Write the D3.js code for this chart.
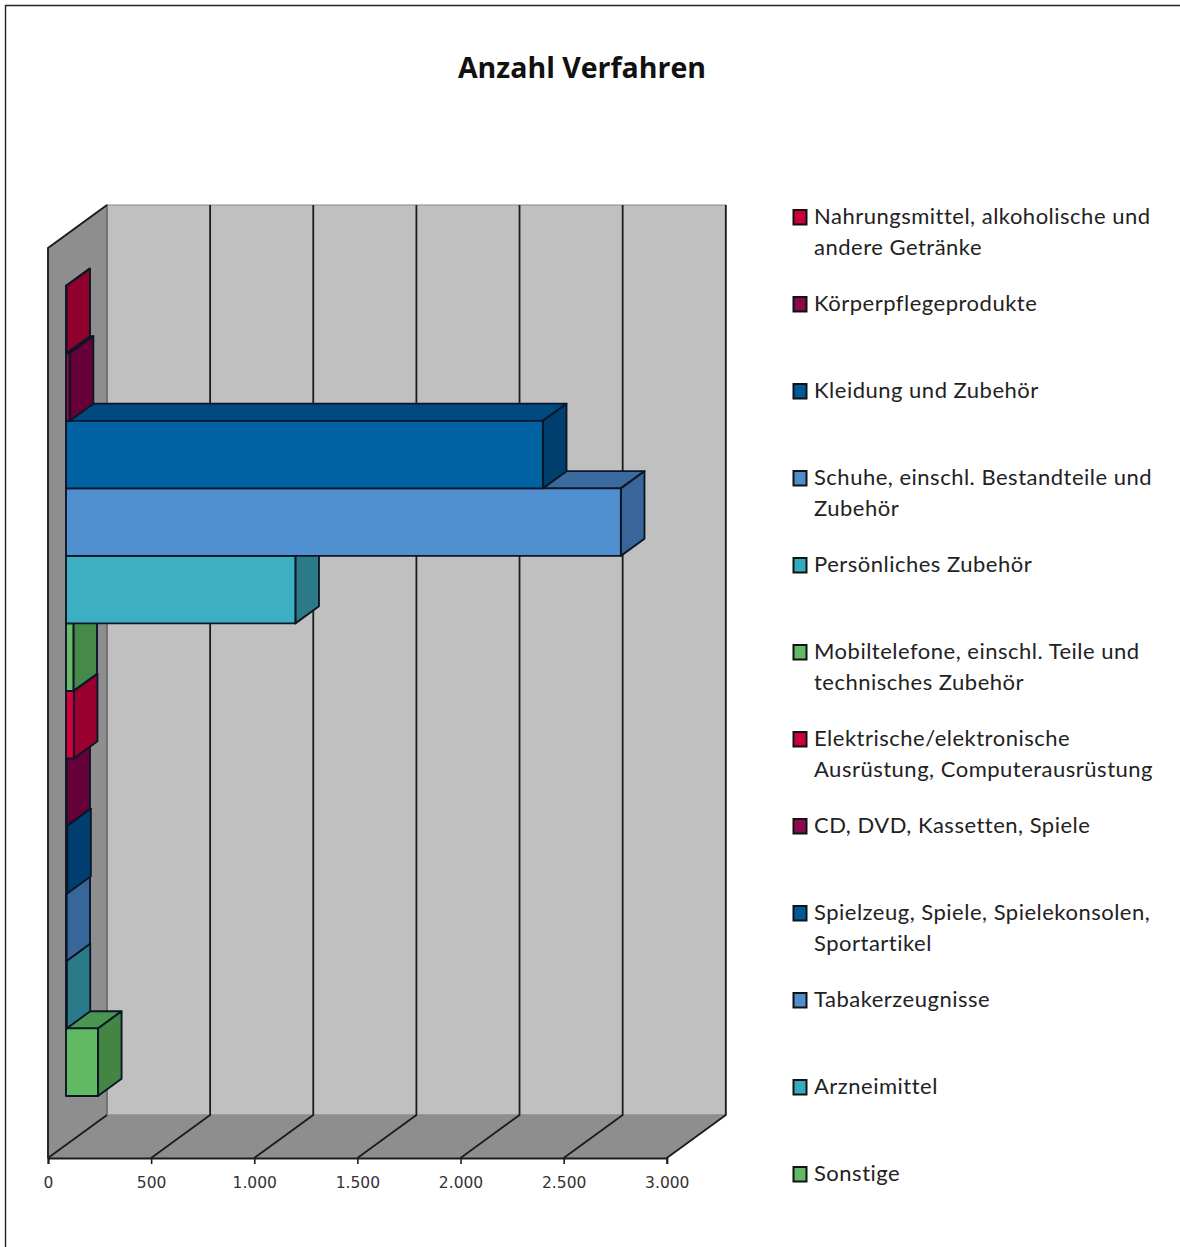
<!DOCTYPE html>
<html><head><meta charset="utf-8">
<script src="https://cdn.jsdelivr.net/npm/d3@7"></script>
<style>html,body{margin:0;background:#fff}svg{display:block}</style></head>
<body><svg id="c" width="1180" height="1247"></svg>
<script>
const categories=["Nahrungsmittel, alkoholische und|andere Getränke","Körperpflegeprodukte","Kleidung und Zubehör","Schuhe, einschl. Bestandteile und|Zubehör","Persönliches Zubehör","Mobiltelefone, einschl. Teile und|technisches Zubehör","Elektrische/elektronische|Ausrüstung, Computerausrüstung","CD, DVD, Kassetten, Spiele","Spielzeug, Spiele, Spielekonsolen,|Sportartikel","Tabakerzeugnisse","Arzneimittel","Sonstige"];
const values=[2,18,2312,2690,1112,36,38,2,6,2,3,155];
const frontColors=["#c4003a","#8a0a4a","#0062a2","#5090d0","#3cb0c2","#68bc68","#d4003c","#880a48","#004f86","#4f80b8","#339aab","#62b964"];
const sideColors=["#8f002c","#660036","#003f6e","#38669a","#2b7a88","#468a4a","#990030","#660038","#003f70","#38669a","#2a7a8a","#438644"];
const topColors=["#8f002c","#660036","#004a80","#3a6a9e","#2b7a88","#4a9650","#990030","#660038","#003f70","#38669a","#2a7a8a","#4a9650"];
const legendColors=["#c8003c","#8a0a4a","#005a98","#4f8cca","#36aac0","#62b864","#c8003c","#8a0a4a","#005a98","#4f8cca","#36aac0","#62b864"];
const ticks=[0,500,1000,1500,2000,2500,3000];
const tickLabels=["0","500","1.000","1.500","2.000","2.500","3.000"];

const svg=d3.select("#c");
const x=d3.scaleLinear().domain([0,3000]).range([48,666.8]);
const yTop=248,yBottom=1158,dx=59,dy=-43;
const barDepth=0.4, barOffset=0.305;
const ox=dx*barOffset, oy=dy*barOffset+1, bx=dx*barDepth, by=dy*barDepth;
const y=d3.scaleBand().domain(categories).range([yTop+oy,yBottom+oy]).paddingInner(0).paddingOuter(0.74);
const line=d3.line();
const poly=(pts,fill,stroke,sw)=>svg.append("path").attr("d",line(pts)+"Z").attr("fill",fill).attr("stroke",stroke).attr("stroke-width",sw).attr("stroke-linejoin","round");

svg.append("path").attr("d","M5.5,1247V5.5H1180").attr("fill","none").attr("stroke","#222").attr("stroke-width",1.4);

// walls
poly([[x(0)+dx,yTop+dy],[x(3000)+dx,yTop+dy],[x(3000)+dx,yBottom+dy],[x(0)+dx,yBottom+dy]],"#c0c0c0","#8a8a8a",1.2);
poly([[x(0),yTop],[x(0)+dx,yTop+dy],[x(0)+dx,yBottom+dy],[x(0),yBottom]],"#8e8e8e","#5a5a5a",1.2);
poly([[x(0),yBottom],[x(0)+dx,yBottom+dy],[x(3000)+dx,yBottom+dy],[x(3000),yBottom]],"#8e8e8e","#8e8e8e",1);
// grid
ticks.slice(1).forEach(t=>{
  svg.append("path").attr("d",line([[x(t),yBottom],[x(t)+dx,yBottom+dy],[x(t)+dx,yTop+dy]])).attr("fill","none").attr("stroke","#1c1c1c").attr("stroke-width",1.8);
});
svg.append("path").attr("d",line([[x(0),yBottom],[x(0)+dx,yBottom+dy]])).attr("fill","none").attr("stroke","#1c1c1c").attr("stroke-width",1.8);
svg.append("path").attr("d",line([[x(0),yBottom],[x(0),yTop],[x(0)+dx,yTop+dy]])).attr("fill","none").attr("stroke","#1c1c1c").attr("stroke-width",1.8);
// axis
const axis=d3.axisBottom(x).tickValues(ticks).tickFormat((d,i)=>tickLabels[i]).tickSize(6).tickPadding(13);
const ag=svg.append("g").attr("transform",`translate(0,${yBottom})`).call(axis);
ag.select(".domain").attr("stroke","#1c1c1c").attr("stroke-width",2);
ag.selectAll("line").attr("stroke","#1c1c1c").attr("stroke-width",1.6);
ag.selectAll("text").attr("font-family","'DejaVu Sans'").attr("font-size",15.5).attr("fill","#333");

// bars, drawn bottom-up
const x0=x(0)+ox;
d3.range(categories.length-1,-1,-1).forEach(i=>{
  const c=categories[i], t=y(c), b=t+y.bandwidth(), r=x0+(x(values[i])-x(0));
  const st="#0c1626", sw=1.9;
  poly([[x0,t],[r,t],[r+bx,t+by],[x0+bx,t+by]],topColors[i],st,sw);
  poly([[r,t],[r+bx,t+by],[r+bx,b+by],[r,b]],sideColors[i],st,sw);
  poly([[x0,t],[r,t],[r,b],[x0,b]],frontColors[i],st,sw);
});

// title
svg.append("text").attr("x",582).attr("y",78).attr("text-anchor","middle").attr("font-family","'Open Sans'").attr("font-weight",700).attr("font-size",28.5).attr("fill","#111").text("Anzahl Verfahren");

// legend
const ly=d3.scalePoint().domain(categories).range([217,1174]);
const lg=svg.append("g");
categories.forEach((c,i)=>{
  const yy=ly(c);
  lg.append("rect").attr("x",793.5).attr("y",yy-7).attr("width",13).attr("height",14.5).attr("fill",legendColors[i]).attr("stroke","#111").attr("stroke-width",2);
  c.split("|").forEach((s,j)=>lg.append("text").attr("x",814).attr("y",yy+7+j*30.5).attr("font-family","Lato").attr("font-size",22).attr("letter-spacing",0.5).attr("fill","#222").text(s));
});
</script></body></html>
